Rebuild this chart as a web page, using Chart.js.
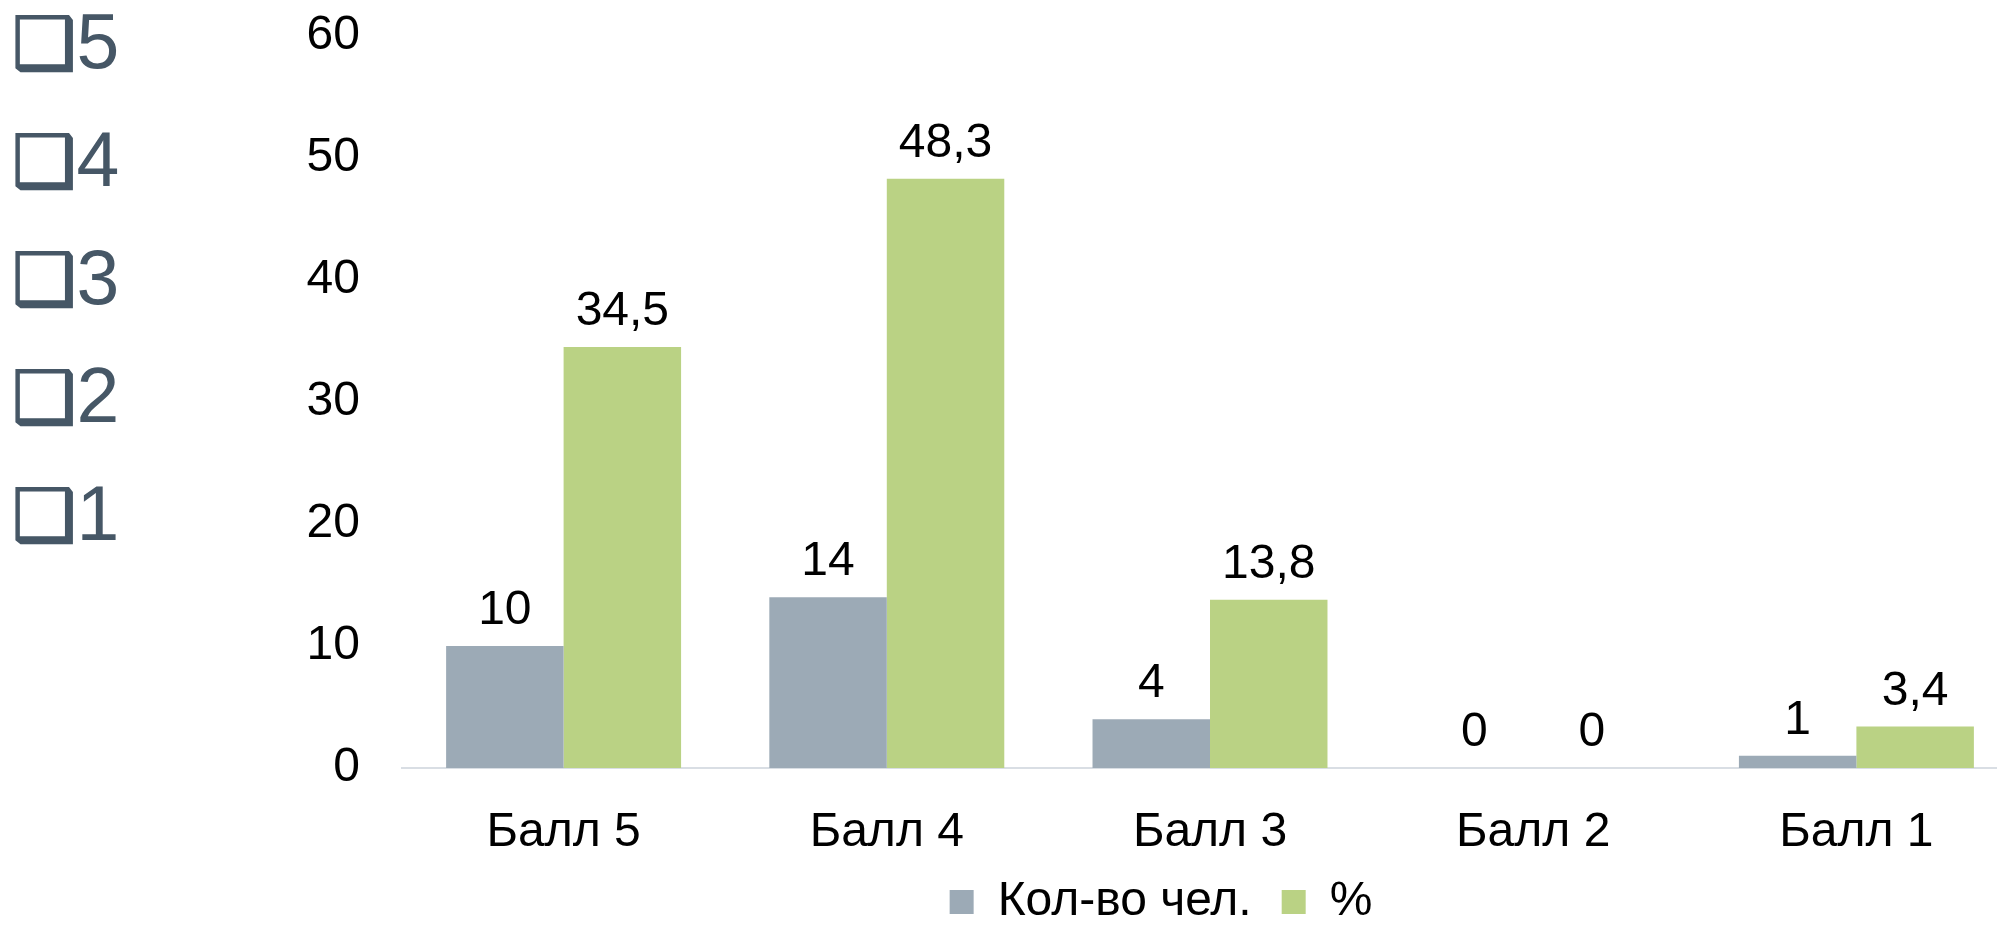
<!DOCTYPE html>
<html>
<head>
<meta charset="utf-8">
<script src="https://cdn.jsdelivr.net/npm/chart.js@4/dist/chart.umd.min.js"></script>
<style>
  html, body { margin: 0; padding: 0; background: #fff; overflow: hidden; width: 1997px; height: 926px; }
  #wrap { position: absolute; left: 0; top: 0; width: 2040px; height: 936px; }
  #side { position: absolute; left: 0; top: 0; z-index: 2; }
  .item { position: absolute; left: 12px; height: 77px; line-height: 77px; white-space: nowrap; color: #465766; font-family: "Liberation Sans", Arial, sans-serif; font-size: 77px; }
  .bul { font-family: "DejaVu Sans", sans-serif; font-size: 72px; -webkit-text-stroke: 1.5px #465766; }
</style>
</head>
<body>
<div id="side"></div>
<div id="wrap"><canvas id="c" width="2040" height="936"></canvas></div>
<script>
// ---- data ----
const categories = ["Балл 5", "Балл 4", "Балл 3", "Балл 2", "Балл 1"];
const seriesNames = ["Кол-во чел.", "%"];
const countValues = [10, 14, 4, 0, 1];
const percentValues = [34.5, 48.3, 13.8, 0, 3.4];
const yTicks = [0, 10, 20, 30, 40, 50, 60];
const sideItems = ["5", "4", "3", "2", "1"];

// side bullet list (text)
const side = document.getElementById('side');
sideItems.forEach((t, i) => {
  const d = document.createElement('div');
  d.className = 'item';
  d.style.top = (3 + i * 118) + 'px';
  d.innerHTML = '<span class="bul">\u2751</span>' + t;
  side.appendChild(d);
});

const FONT = "'Liberation Sans', Arial, sans-serif";
const FS = 48;

const valueLabels = {
  id: 'valueLabels',
  afterDatasetsDraw(chart) {
    const ctx = chart.ctx;
    ctx.save();
    ctx.font = FS + "px " + FONT;
    ctx.fillStyle = '#000';
    ctx.textAlign = 'center';
    ctx.textBaseline = 'alphabetic';
    chart.data.datasets.forEach((ds, di) => {
      const meta = chart.getDatasetMeta(di);
      meta.data.forEach((el, i) => {
        const v = ds.data[i];
        const txt = String(v).replace('.', ',');
        ctx.fillText(txt, el.x, el.y - 22);
      });
    });
    ctx.restore();
  }
};

new Chart(document.getElementById('c'), {
  type: 'bar',
  data: {
    labels: categories,
    datasets: [
      { label: seriesNames[0], data: countValues, backgroundColor: '#9caab6', borderWidth: 0,
        categoryPercentage: 0.727, barPercentage: 1 },
      { label: seriesNames[1], data: percentValues, backgroundColor: '#bad284', borderWidth: 0,
        categoryPercentage: 0.727, barPercentage: 1 }
    ]
  },
  options: {
    responsive: false,
    devicePixelRatio: 1,
    animation: false,
    layout: { padding: { left: 304, right: 22, top: 36, bottom: 0 } },
    plugins: {
      legend: {
        display: true,
        position: 'bottom',
        align: 'center',
        fullSize: true,
        labels: {
          font: { family: FONT, size: FS },
          color: '#000',
          boxWidth: 24,
          boxHeight: 24,
          padding: 30
        }
      },
      tooltip: { enabled: false }
    },
    scales: {
      x: {
        grid: { display: false, drawTicks: false },
        border: { display: true, color: '#d9dee4', width: 2 },
        ticks: { font: { family: FONT, size: FS }, color: '#000', padding: 36, maxRotation: 0, autoSkip: false },
        afterFit(s) { s.height = 80; }
      },
      y: {
        min: 0, max: 60,
        grid: { display: false, drawTicks: true, tickLength: 35 },
        border: { display: false },
        ticks: {
          stepSize: 10,
          font: { family: FONT, size: FS },
          color: '#000',
          padding: 7,
          callback: (v) => yTicks.includes(v) ? String(v) : ''
        },
        afterFit(s) { s.width = 98; }
      }
    }
  },
  plugins: [valueLabels]
});
</script>
</body>
</html>
